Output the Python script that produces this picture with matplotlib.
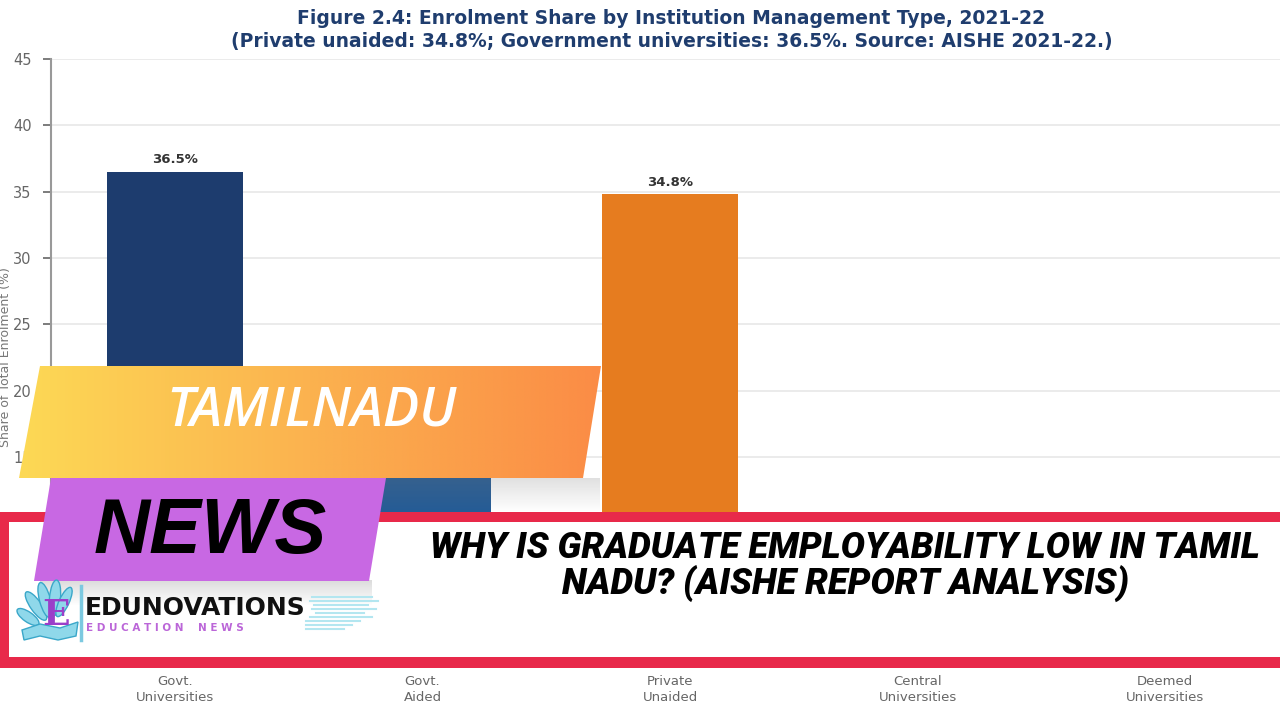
import matplotlib
matplotlib.use("Agg")
import matplotlib.pyplot as plt
import numpy as np
from matplotlib.patches import Polygon, Rectangle, Ellipse
from matplotlib.colors import LinearSegmentedColormap

# ---------------- data ----------------
categories = ["Govt.\nUniversities", "Govt.\nAided", "Private\nUnaided",
              "Central\nUniversities", "Deemed\nUniversities"]
shares = [36.5, 14.5, 34.8, 1.8, 5.3]
bar_colors = ["#1d3c6e", "#255c96", "#e67c1f", "#4a90c8", "#7aaed6"]
y_ticks = [0, 5, 10, 15, 20, 25, 30, 35, 40, 45]
title_line1 = "Figure 2.4: Enrolment Share by Institution Management Type, 2021-22"
title_line2 = "(Private unaided: 34.8%; Government universities: 36.5%. Source: AISHE 2021-22.)"
banner_top = "TAMILNADU"
banner_news = "NEWS"
headline = "WHY IS GRADUATE EMPLOYABILITY LOW IN TAMIL\nNADU? (AISHE REPORT ANALYSIS)"
brand = "EDUNOVATIONS"
brand_sub = "E D U C A T I O N    N E W S"

W, H = 1280, 720
fig = plt.figure(figsize=(12.8, 7.2), dpi=100)
fig.patch.set_facecolor("white")

# ---------------- chart ----------------
left_px, right_px = 51.25, 1288.75
bottom_px, top_px = 656, 59
ax = fig.add_axes([left_px / W, (H - bottom_px) / H,
                   (right_px - left_px) / W, (bottom_px - top_px) / H])
x = np.arange(len(categories))
bars = ax.bar(x, shares, width=0.55, color=bar_colors, zorder=3)
for xi, v in zip(x, shares):
    if v > 20:  # labels of the lower bars sit under the banners
        ax.text(xi, v + 0.4, f"{v}%", ha="center", va="bottom", fontsize=9.5,
                fontweight="bold", color="#333333", zorder=4)
ax.set_xlim(-0.5, len(categories) - 0.5)
ax.set_ylim(0, 45)
ax.set_yticks(y_ticks)
ax.set_xticks(x)
ax.set_xticklabels(categories, fontsize=9.5, color="#666666", linespacing=1.3)
ax.tick_params(axis="y", labelsize=10.5, colors="#666666", length=6, width=1.2, pad=8)
ax.tick_params(axis="x", length=0, pad=14)
ax.grid(axis="y", color="#e8e8e8", linewidth=1.2, zorder=0)
for s in ["top", "right", "bottom"]:
    ax.spines[s].set_visible(False)
ax.spines["left"].set_color("#999999")
ax.spines["left"].set_linewidth(1.5)
ax.set_ylabel("Share of Total Enrolment (%)", fontsize=9, color="#777777")
ax.yaxis.set_label_coords(-39 / (right_px - left_px), 0.5)

fig.text(671 / W, 1 - 18 / H, title_line1, ha="center", va="center",
         fontsize=13.5, fontweight="bold", color="#1f3d6e")
fig.text(672 / W, 1 - 42 / H, title_line2, ha="center", va="center",
         fontsize=13.5, fontweight="bold", color="#1f3d6e")

# ---------------- overlay ----------------
ov = fig.add_axes([0, 0, 1, 1], zorder=10)
ov.patch.set_visible(False)
ov.axis("off")

def shadow(x0, x1, y0, y1, alpha=0.25):
    g = np.linspace(1, 0, 64)
    arr = np.tile(g[:, None], (1, 2))
    rgba = np.zeros(arr.shape + (4,))
    rgba[..., :3] = 0.45
    rgba[..., 3] = arr * alpha
    ov.imshow(rgba, extent=[x0, x1, y1, y0], aspect="auto", zorder=1,
              interpolation="bilinear")

# white box with red frame
ov.add_patch(Rectangle((0, 512), 1280, 157, facecolor="white", edgecolor="none", zorder=0.5))
shadow(380, 600, 478, 512, alpha=0.22)
red = "#e8294a"
ov.add_patch(Rectangle((0, 512), 1280, 10, facecolor=red, edgecolor="none", zorder=2))
ov.add_patch(Rectangle((0, 657), 1280, 11, facecolor=red, edgecolor="none", zorder=2))
ov.add_patch(Rectangle((0, 512), 9, 156, facecolor=red, edgecolor="none", zorder=2))

# shadow under NEWS banner
shadow(40, 372, 580, 606, alpha=0.25)

# NEWS purple banner
news_poly = Polygon([(51, 478), (386, 478), (369, 581), (34, 581)], closed=True,
                    facecolor="#c868e3", edgecolor="none", zorder=3)
ov.add_patch(news_poly)
ov.text(210, 532, banner_news, ha="center", va="center", fontsize=56,
        fontweight="bold", fontstyle="italic", family="Liberation Sans",
        color="black", zorder=6)

# TAMILNADU gradient banner
tn_poly = Polygon([(40, 366), (601, 366), (583, 478), (19, 478)], closed=True,
                  facecolor="none", edgecolor="none", zorder=4)
ov.add_patch(tn_poly)
cmap = LinearSegmentedColormap.from_list("tn", ["#fdd955", "#fbb24f", "#fb8c46"])
grad = np.linspace(0, 1, 256)[None, :]
im = ov.imshow(grad, extent=[19, 601, 478, 366], aspect="auto", cmap=cmap,
               zorder=4, interpolation="bilinear")
im.set_clip_path(tn_poly)
ov.text(311, 412, banner_top, ha="center", va="center", fontsize=39,
        fontweight="semibold", fontstyle="italic", family="Open Sans",
        color="white", zorder=6)

# headline
ov.text(845, 566, headline, ha="center", va="center", fontsize=26,
        fontweight="black", fontstyle="italic", family="Roboto",
        color="black", linespacing=0.95, zorder=6)

# logo
leaf_c = "#8fd8ea"
leaf_e = "#3aa7c9"
for cx, cy, w, h, ang in [(36, 606, 11, 34, -35), (45, 600, 11, 36, -15),
                          (55, 598, 11, 36, 5), (64, 602, 10, 32, 25),
                          (28, 617, 10, 26, -55)]:
    ov.add_patch(Ellipse((cx, cy), w, h, angle=ang, facecolor=leaf_c,
                         edgecolor=leaf_e, linewidth=1.0, zorder=7))
ov.add_patch(Polygon([(22, 630), (40, 624), (60, 628), (78, 622), (76, 636),
                      (58, 640), (40, 636), (24, 640)], closed=True,
                     facecolor=leaf_c, edgecolor=leaf_e, linewidth=1.0, zorder=7))
ov.text(56, 615, "E", ha="center", va="center", fontsize=26, fontweight="bold",
        family="DejaVu Serif", color="#9b3fc9", zorder=8)
ov.plot([81, 81], [586, 640], color="#7cc9e0", linewidth=2.5, zorder=7)
ov.text(85, 608, brand, ha="left", va="center", fontsize=18, fontweight="bold",
        family="DejaVu Sans", color="#111111", zorder=8)
ov.text(86, 628, brand_sub, ha="left", va="center", fontsize=7.5, fontweight="bold",
        family="DejaVu Sans", color="#bb66d8", zorder=8)
for yy, x0, x1 in [(597, 312, 372), (601, 310, 378), (605, 314, 368),
                   (609, 312, 376), (613, 316, 364), (617, 310, 372),
                   (621, 306, 360), (625, 306, 352), (629, 306, 344)]:
    ov.plot([x0, x1], [yy, yy], color="#b3e6f0", linewidth=1.5, zorder=7)

ov.set_xlim(0, W)
ov.set_ylim(H, 0)

fig.savefig("out.png", dpi=100, facecolor="white")
